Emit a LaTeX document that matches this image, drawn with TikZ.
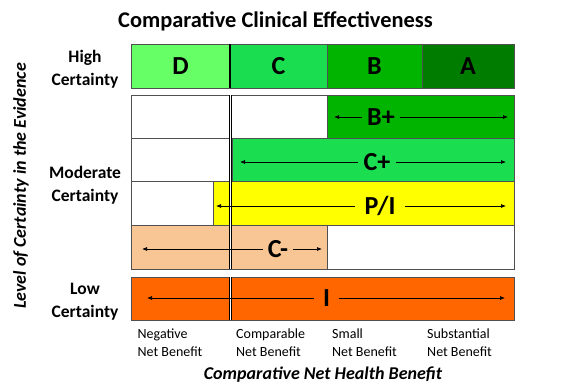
\documentclass[tikz,border=0pt]{standalone}
\usepackage{fontspec}
\setmainfont{Carlito}
\usetikzlibrary{arrows.meta}

\definecolor{colD}{RGB}{102,255,102}
\definecolor{colC}{RGB}{26,222,80}
\definecolor{colB}{RGB}{0,180,0}
\definecolor{colA}{RGB}{0,125,0}
\definecolor{colPI}{RGB}{255,255,0}
\definecolor{colCm}{RGB}{248,197,148}
\definecolor{colI}{RGB}{255,102,0}
\definecolor{edge}{RGB}{80,80,80}

\tikzset{
  cell/.style={draw=edge, line width=0.8pt},
  grade/.style={font=\fontsize{26}{26}\bfseries\selectfont, inner sep=5pt},
  certain/.style={font=\fontsize{17.5}{23}\bfseries\selectfont, align=center},
  benefit/.style={font=\fontsize{14}{18}\selectfont, align=left, anchor=north west, inner sep=0pt},
  span/.style={-{Latex[length=5pt,width=4pt]}, line width=0.7pt},
  divider/.style={double=white, double distance=1.8pt, line width=0.8pt, draw=black}
}

\begin{document}
\begin{tikzpicture}[x=1pt, y=-1pt]
  \useasboundingbox (0,0) rectangle (588,388);

  % Title
  \node[font=\fontsize{22.4}{23}\bfseries\selectfont] (title) at (275.5,21) {Comparative Clinical Effectiveness};

  % High certainty row: grades D to A
  \foreach \l/\r/\c/\t in {131/230/colD/D, 230/327/colC/C, 327/422/colB/B, 422/514/colA/A}
  {
    \draw[cell, fill=\c] (\l,44) rectangle (\r,88);
    \node[grade] (g\t) at ({(\l+\r)/2},66) {\t};
  }
  \draw[line width=1.6pt] (230,44) -- (230,88);

  % Moderate certainty rows
  \draw[cell, fill=white] (131,95) rectangle (327,138);
  \draw[cell, fill=colB] (327,95) rectangle (514,138);
  \draw[cell, fill=white] (131,138) rectangle (232,181.5);
  \draw[cell, fill=colC] (232,138) rectangle (514,181.5);
  \draw[cell, fill=white] (131,181.5) rectangle (213,225.5);
  \draw[cell, fill=colPI] (213,181.5) rectangle (514,225.5);
  \draw[cell, fill=colCm] (131,225.5) rectangle (327,269);
  \draw[cell, fill=white] (327,225.5) rectangle (514,269);
  \draw[divider] (230.4,95) -- (230.4,269);

  % Low certainty row
  \draw[cell, fill=colI] (131,277) rectangle (514,320);
  \draw[divider] (230.4,277) -- (230.4,320);

  % Grade labels inside the rows, with their ranges
  \node[grade] (bplus) at (381,117) {B+};
  \node[grade] (cplus) at (377,162) {C+};
  \node[grade, inner sep=9pt] (pi) at (380,206) {P/I};
  \node[grade] (cminus) at (278,249) {C-};
  \node[grade, inner sep=9pt] (ins) at (326.5,298) {I};

  \coordinate (bplusL) at (334,117);   \coordinate (bplusR) at (508,117);
  \coordinate (cplusL) at (240,162);   \coordinate (cplusR) at (506,162);
  \coordinate (piL) at (216,206);      \coordinate (piR) at (506,206);
  \coordinate (cminusL) at (142,249);  \coordinate (cminusR) at (322,249);
  \coordinate (insL) at (147,298);     \coordinate (insR) at (505,298);

  \foreach \n in {bplus, cplus, pi, cminus, ins}
  {
    \draw[span] (\n.west) -- (\n L);
    \draw[span] (\n.east) -- (\n R);
  }

  % Certainty labels on the left
  \node[certain] (high) at (85,69.5) {High\\Certainty};
  \node[certain] (moderate) at (85,185.5) {Moderate\\Certainty};
  \node[certain] (low) at (85,302) {Low\\Certainty};
  \node[font=\fontsize{18}{18}\bfseries\itshape\selectfont, rotate=90] (yaxis) at (21,186) {Level of Certainty in the Evidence};

  % Net benefit labels along the bottom
  \node[benefit] (neg) at (137.5,328.5) {Negative\\Net Benefit};
  \node[benefit] (comp) at (236,328.5) {Comparable\\Net Benefit};
  \node[benefit] (small) at (332,328.5) {Small\\Net Benefit};
  \node[benefit] (subst) at (427,328.5) {Substantial\\Net Benefit};
  \node[font=\fontsize{18}{18}\bfseries\itshape\selectfont] (xaxis) at (323,375) {Comparative Net Health Benefit};
\end{tikzpicture}
\end{document}
